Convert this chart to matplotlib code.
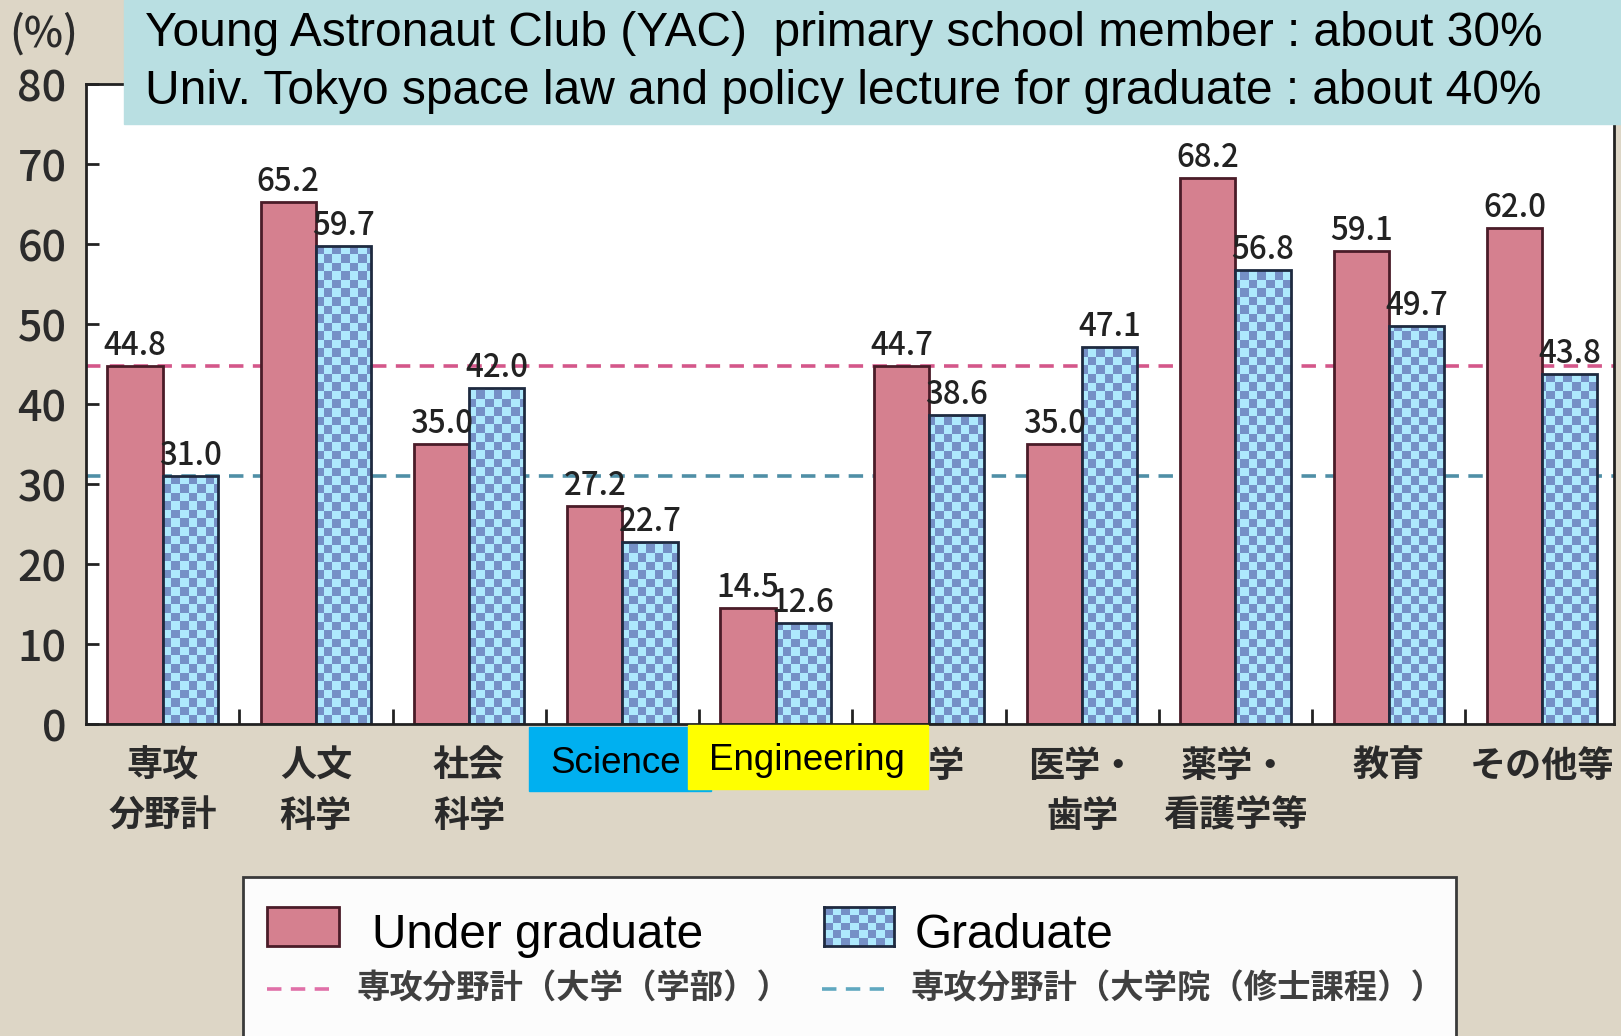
import numpy as np
import matplotlib
matplotlib.use("Agg")
import matplotlib.pyplot as plt
from matplotlib.patches import Rectangle
from matplotlib.lines import Line2D
from matplotlib.colors import ListedColormap

# データ（大学（学部）／大学院（修士課程）の女性比率 %）
categories = ["専攻\n分野計", "人文\n科学", "社会\n科学", "理学", "工学", "農学",
              "医学・\n歯学", "薬学・\n看護学等", "教育", "その他等"]
undergrad = [44.8, 65.2, 35.0, 27.2, 14.5, 44.7, 35.0, 68.2, 59.1, 62.0]
graduate = [31.0, 59.7, 42.0, 22.7, 12.6, 38.6, 47.1, 56.8, 49.7, 43.8]
undergrad_total = 44.8
graduate_total = 31.0
yticks = [0, 10, 20, 30, 40, 50, 60, 70, 80]

header_lines = ["Young Astronaut Club (YAC)  primary school member : about 30%",
                "Univ. Tokyo space law and policy lecture for graduate : about 40%"]

W, H = 1621, 1036
BG = "#ddd6c6"
PINK = "#d5808f"
PINK_EDGE = "#4a1c28"
BLUE = "#7590c6"
LIGHT = "#aee9fd"
BLUE_EDGE = "#1e2a40"
XMAX = 9.97

plt.rcParams['font.family'] = ['Noto Sans CJK JP', 'DejaVu Sans']
LATIN = ['Liberation Sans', 'DejaVu Sans']


def fx(px):
    return px / W


def fy(py):
    return 1 - py / H


fig = plt.figure(figsize=(W / 100, H / 100), dpi=100, facecolor=BG)
ax = fig.add_axes([fx(86), fy(724), fx(1614) - fx(86), fy(84) - fy(724)])
ax.set_facecolor("white")

x = np.arange(len(categories)) + 0.5
bw = 0.36

ax.axhline(undergrad_total, color="#d4578a", lw=2.6, ls=(0, (4, 2.6)), zorder=1)
ax.axhline(graduate_total, color="#4f8fa6", lw=2.6, ls=(0, (4, 2.6)), zorder=1)

pink_bars = ax.bar(x - bw / 2, undergrad, bw, color=PINK, edgecolor=PINK_EDGE, lw=2, zorder=2)
blue_bars = ax.bar(x + bw / 2, graduate, bw, color=BLUE, lw=0, zorder=2)

# 市松模様のテクスチャ
cell = 8.5
nx = int(round(1528 / cell))
ny = int(round(640 / cell))
checker = np.add.outer(np.arange(ny), np.arange(nx)) % 2
cmap = ListedColormap([BLUE, LIGHT])
for b in blue_bars:
    im = ax.imshow(checker, cmap=cmap, extent=(0, XMAX, 0, 80), origin="lower",
                   aspect="auto", interpolation="nearest", zorder=2.1)
    im.set_clip_path(b)
ax.bar(x + bw / 2, graduate, bw, fill=False, edgecolor=BLUE_EDGE, lw=2, zorder=2.2)

for xi, v in zip(x - bw / 2, undergrad):
    ax.text(xi, v + 0.5, f"{v:.1f}", ha="center", va="bottom", fontsize=22.5,
            fontweight="medium", color="#222222", zorder=3)
for xi, v in zip(x + bw / 2, graduate):
    ax.text(xi, v + 0.5, f"{v:.1f}", ha="center", va="bottom", fontsize=22.5,
            fontweight="medium", color="#222222", zorder=3)

ax.set_xlim(0, XMAX)
ax.set_ylim(0, 80)
ax.set_yticks(yticks)
ax.tick_params(axis="y", direction="in", length=9, width=2, pad=14,
               labelsize=31, labelcolor="#2b2b2b", color="#222222")
for lbl in ax.get_yticklabels():
    lbl.set_fontweight("medium")
ax.set_xticks(x)
ax.set_xticklabels(categories, fontsize=26, fontweight="bold", color="#2a2a2a",
                   linespacing=1.45)
ax.set_xticks(np.arange(1, len(categories)), minor=True)
ax.tick_params(axis="x", which="major", length=0, pad=17)
ax.tick_params(axis="x", which="minor", direction="in", length=11, width=2, color="#222222")
for s in ax.spines.values():
    s.set_color("#222222")
    s.set_linewidth(2)

fig.text(fx(9), fy(34), "(%)", fontsize=30, fontweight="medium", color="#2b2b2b",
         va="center", ha="left")

# 上部の注記ボックス
fig.patches.append(Rectangle((fx(124), fy(124)), 1 - fx(124), 124 / H,
                             transform=fig.transFigure, color="#b9dfe2", zorder=3))
fig.text(fx(145), fy(34), header_lines[0], family=LATIN, fontsize=34.5, va="center",
         ha="left", color="black", zorder=4)
fig.text(fx(145), fy(91), header_lines[1], family=LATIN, fontsize=34.5, va="center",
         ha="left", color="black", zorder=4)

# Science / Engineering ラベル
fig.patches.append(Rectangle((fx(529), fy(791)), (711 - 529) / W, (791 - 727) / H,
                             transform=fig.transFigure, color="#00b0f0", zorder=3))
fig.patches.append(Rectangle((fx(688), fy(789)), (928 - 688) / W, (789 - 725) / H,
                             transform=fig.transFigure, color="#ffff00", zorder=3.1))
fig.text(fx(550), fy(773), "Science", family=LATIN, fontsize=26.5, va="baseline",
         ha="left", color="black", zorder=4)
fig.text(fx(709), fy(770), "Engineering", family=LATIN, fontsize=26.5, va="baseline",
         ha="left", color="black", zorder=4)

# 凡例
fig.patches.append(Rectangle((fx(243), fy(1040)), (1456 - 243) / W, (1040 - 877) / H,
                             transform=fig.transFigure, facecolor="#fcfcfc",
                             edgecolor="#3a3a3a", lw=2, zorder=3))
fig.patches.append(Rectangle((fx(267), fy(946)), (339 - 267) / W, (946 - 907) / H,
                             transform=fig.transFigure, facecolor=PINK,
                             edgecolor=PINK_EDGE, lw=2, zorder=4))
lax = fig.add_axes([fx(824), fy(946), (894 - 824) / W, (946 - 907) / H], zorder=5)
lax.imshow(np.add.outer(np.arange(5), np.arange(8)) % 2, cmap=cmap, aspect="auto",
           interpolation="nearest")
lax.set_xticks([])
lax.set_yticks([])
for s in lax.spines.values():
    s.set_color(BLUE_EDGE)
    s.set_linewidth(2)

fig.text(fx(372), fy(935), "Under graduate", family=LATIN, fontsize=34.4, va="center",
         ha="left", color="black", zorder=5)
fig.text(fx(915), fy(935), "Graduate", family=LATIN, fontsize=34.4, va="center",
         ha="left", color="black", zorder=5)

fig.lines.append(Line2D([fx(267), fx(329)], [fy(989), fy(989)], transform=fig.transFigure,
                        color="#e070a8", lw=2.6, ls=(0, (4, 2.6)), zorder=5))
fig.lines.append(Line2D([fx(822), fx(884)], [fy(989), fy(989)], transform=fig.transFigure,
                        color="#60a8c0", lw=2.6, ls=(0, (4, 2.6)), zorder=5))
fig.text(fx(357), fy(989), "専攻分野計（大学（学部））", fontsize=24, fontweight="bold",
         va="center", ha="left", color="#404040", zorder=5)
fig.text(fx(910), fy(989), "専攻分野計（大学院（修士課程））", fontsize=24, fontweight="bold",
         va="center", ha="left", color="#404040", zorder=5)

fig.savefig("out.png", dpi=100, facecolor=BG)
